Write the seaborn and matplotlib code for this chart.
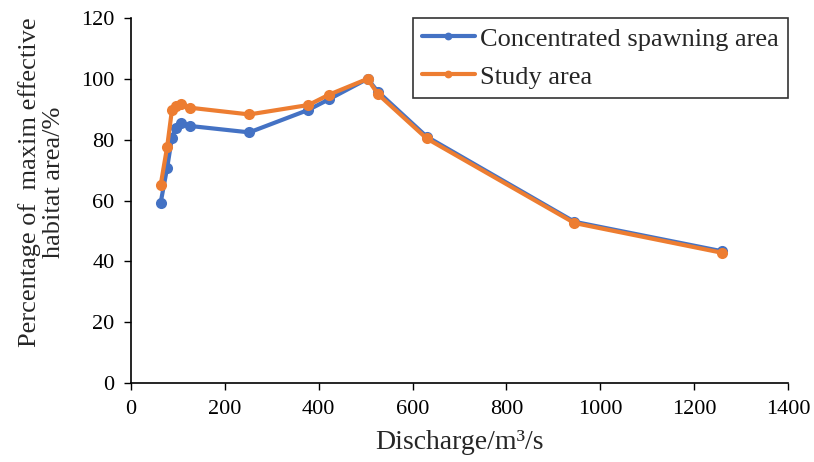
import numpy as np
import pandas as pd
import seaborn as sns
import matplotlib.pyplot as plt

sns.set_style("ticks")
plt.rcParams['font.family'] = ['Liberation Serif', 'DejaVu Serif']

# values
discharge = [63, 77, 87, 95, 106, 126, 252, 378, 422, 504, 526, 630, 945, 1260]
spawning = [59.2, 70.8, 80.5, 84.0, 85.5, 84.5, 82.4, 89.8, 93.3, 100.0, 95.8, 81.0, 53.0, 43.3]
study = [65.0, 77.7, 89.6, 91.0, 91.6, 90.5, 88.3, 91.4, 94.8, 100.0, 95.0, 80.4, 52.6, 42.8]

df = pd.DataFrame({
    "Discharge": discharge * 2,
    "Pct": spawning + study,
    "Area": ["Concentrated spawning area"] * len(discharge) + ["Study area"] * len(discharge),
})

fig, ax = plt.subplots(figsize=(8.14, 4.62), dpi=100)
fig.subplots_adjust(left=0.161, right=0.968, top=0.961, bottom=0.171)

sns.lineplot(data=df, x="Discharge", y="Pct", hue="Area",
             palette=["#4472C4", "#ED7D31"], marker="o", markersize=8,
             markeredgewidth=0, linewidth=3, ax=ax, sort=False)

ax.set_xlim(0, 1400)
ax.set_ylim(0, 120)
ax.set_xticks(np.arange(0, 1401, 200))
ax.set_yticks(np.arange(0, 121, 20))
ax.tick_params(labelsize=16, direction="out", length=5, width=1, colors="black", pad=7)
ax.set_xlabel("Discharge/m³/s", fontsize=20, labelpad=8)
ax.set_ylabel("Percentage of  maxim effective\nhabitat area/%", fontsize=19,
              linespacing=1.15)
ax.yaxis.set_label_coords(-0.1, 0.55)

for s in ["top", "right"]:
    ax.spines[s].set_visible(False)
for s in ["left", "bottom"]:
    ax.spines[s].set_color("black")
    ax.spines[s].set_linewidth(1.2)

leg = ax.legend(loc="upper right", fontsize=19, frameon=True, fancybox=False,
                edgecolor="black", borderaxespad=0, handlelength=2.0,
                handletextpad=0.2, borderpad=0.35, labelspacing=0.55,
                markerscale=0.7)
leg.get_frame().set_linewidth(1.2)

fig.savefig("out.png", dpi=100)
